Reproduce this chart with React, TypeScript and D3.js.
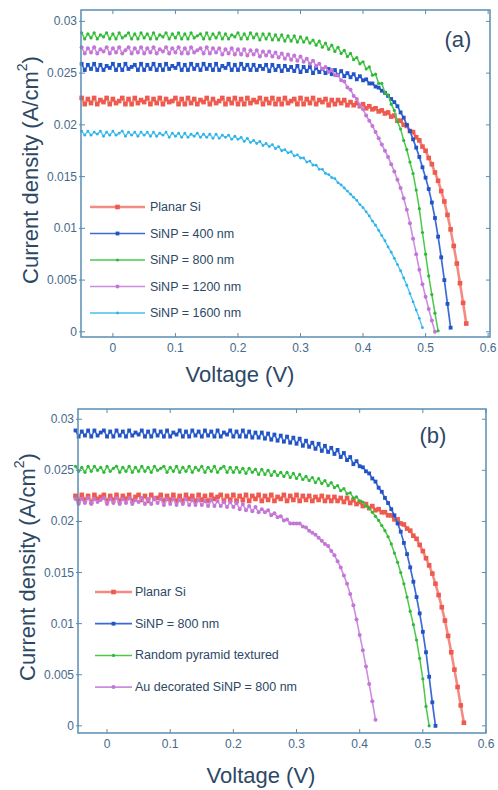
import React from 'react';
import * as d3 from 'd3';

// voltage sweep (V), shared by every curve
const VOLTAGE = [
  -0.05, -0.045, -0.04, -0.035, -0.03, -0.025, -0.02, -0.015, -0.01, -0.005,
  0, 0.005, 0.01, 0.015, 0.02, 0.025, 0.03, 0.035, 0.04, 0.045,
  0.05, 0.055, 0.06, 0.065, 0.07, 0.075, 0.08, 0.085, 0.09, 0.095,
  0.1, 0.105, 0.11, 0.115, 0.12, 0.125, 0.13, 0.135, 0.14, 0.145,
  0.15, 0.155, 0.16, 0.165, 0.17, 0.175, 0.18, 0.185, 0.19, 0.195,
  0.2, 0.205, 0.21, 0.215, 0.22, 0.225, 0.23, 0.235, 0.24, 0.245,
  0.25, 0.255, 0.26, 0.265, 0.27, 0.275, 0.28, 0.285, 0.29, 0.295,
  0.3, 0.305, 0.31, 0.315, 0.32, 0.325, 0.33, 0.335, 0.34, 0.345,
  0.35, 0.355, 0.36, 0.365, 0.37, 0.375, 0.38, 0.385, 0.39, 0.395,
  0.4, 0.405, 0.41, 0.415, 0.42, 0.425, 0.43, 0.435, 0.44, 0.445,
  0.45, 0.455, 0.46, 0.465, 0.47, 0.475, 0.48, 0.485, 0.49, 0.495,
  0.5, 0.505, 0.51, 0.515, 0.52, 0.525, 0.53, 0.535, 0.54, 0.545,
  0.55, 0.555, 0.56, 0.565, 0.57,
];

const X_TICKS = [0, 0.1, 0.2, 0.3, 0.4, 0.5, 0.6];
const X_TICK_LABELS = ['0', '0.1', '0.2', '0.3', '0.4', '0.5', '0.6'];
const Y_TICKS = [0, 0.005, 0.01, 0.015, 0.02, 0.025, 0.03];
const Y_TICK_LABELS = ['0', '0.005', '0.01', '0.015', '0.02', '0.025', '0.03'];

// current density values in mA/cm2 (converted to A/cm2 when drawn)
// panel (a)
const A_PLANAR = [
  22.6, 22.0, 22.5, 22.1, 22.6, 22.0, 22.4, 22.2, 22.6, 22.0,
  22.5, 22.1, 22.3, 22.6, 22.0, 22.5, 22.0, 22.6, 22.1, 22.4,
  22.2, 22.6, 22.0, 22.5, 22.1, 22.6, 22.0, 22.5, 22.2, 22.3,
  22.6, 22.0, 22.5, 22.0, 22.6, 22.1, 22.5, 22.0, 22.4, 22.2,
  22.6, 22.0, 22.5, 22.1, 22.3, 22.6, 22.0, 22.5, 22.1, 22.6,
  22.0, 22.5, 22.0, 22.6, 22.1, 22.4, 22.2, 22.6, 22.0, 22.5,
  22.1, 22.6, 22.0, 22.5, 22.0, 22.6, 22.1, 22.3, 22.5, 22.0,
  22.6, 22.0, 22.5, 22.1, 22.6, 22.0, 22.4, 22.2, 22.5, 21.9,
  22.4, 22.0, 22.4, 22.1, 22.4, 21.9, 22.2, 21.9, 22.1, 21.8,
  22.0, 21.6, 21.8, 21.5, 21.6, 21.3, 21.4, 21.1, 21.2, 20.8,
  20.9, 20.4, 20.4, 20.0, 19.9, 19.4, 19.3, 18.8, 18.5, 17.9,
  17.5, 16.8, 16.2, 15.4, 14.6, 13.6, 12.6, 11.3, 9.9, 8.3,
  6.6, 4.7, 2.8, 0.8,
];
const A_SINP400 = [
  25.9, 25.3, 25.8, 25.4, 25.9, 25.3, 25.8, 25.3, 25.7, 25.5,
  25.9, 25.3, 25.8, 25.3, 25.9, 25.4, 25.6, 25.8, 25.3, 25.9,
  25.3, 25.8, 25.4, 25.9, 25.3, 25.8, 25.3, 25.9, 25.4, 25.7,
  25.5, 25.9, 25.3, 25.8, 25.3, 25.9, 25.4, 25.8, 25.3, 25.9,
  25.4, 25.8, 25.3, 25.9, 25.3, 25.7, 25.5, 25.9, 25.3, 25.8,
  25.3, 25.9, 25.4, 25.8, 25.3, 25.8, 25.3, 25.7, 25.4, 25.8,
  25.2, 25.8, 25.3, 25.7, 25.2, 25.7, 25.3, 25.6, 25.2, 25.7,
  25.1, 25.6, 25.2, 25.6, 25.0, 25.5, 25.1, 25.4, 25.0, 25.4,
  24.9, 25.3, 24.8, 25.2, 24.7, 25.0, 24.6, 24.9, 24.4, 24.7,
  24.3, 24.4, 24.0, 24.0, 23.7, 23.6, 23.3, 23.1, 22.8, 22.5,
  22.2, 21.8, 21.2, 20.7, 20.0, 19.4, 18.6, 17.8, 16.9, 15.9,
  14.9, 13.8, 12.5, 11.0, 9.2, 7.2, 5.0, 2.7, 0.4,
];
const A_SINP800 = [
  28.9, 28.3, 28.8, 28.4, 28.9, 28.3, 28.7, 28.5, 28.9, 28.3,
  28.8, 28.3, 28.9, 28.4, 28.6, 28.9, 28.3, 28.8, 28.3, 28.9,
  28.4, 28.8, 28.3, 28.9, 28.3, 28.7, 28.5, 28.9, 28.3, 28.8,
  28.4, 28.9, 28.3, 28.8, 28.3, 28.9, 28.4, 28.6, 28.8, 28.3,
  28.9, 28.3, 28.8, 28.4, 28.9, 28.3, 28.8, 28.3, 28.7, 28.5,
  28.9, 28.3, 28.8, 28.3, 28.9, 28.4, 28.8, 28.2, 28.8, 28.3,
  28.8, 28.2, 28.7, 28.2, 28.7, 28.1, 28.6, 28.1, 28.6, 28.0,
  28.5, 28.0, 28.4, 27.9, 28.2, 27.7, 28.1, 27.5, 27.9, 27.3,
  27.7, 27.1, 27.5, 26.9, 27.2, 26.6, 26.9, 26.3, 26.5, 25.9,
  26.1, 25.4, 25.6, 24.8, 24.9, 24.0, 24.0, 23.1, 22.9, 22.0,
  21.4, 20.3, 19.6, 18.5, 17.6, 16.4, 15.3, 13.7, 11.9, 9.6,
  7.5, 5.4, 3.6, 1.8, 0.1,
];
const A_SINP1200 = [
  27.5, 26.9, 27.4, 27.0, 27.5, 26.9, 27.3, 27.1, 27.5, 26.9,
  27.4, 27.0, 27.5, 26.9, 27.2, 27.5, 26.9, 27.4, 27.0, 27.5,
  26.9, 27.4, 27.0, 27.5, 26.9, 27.3, 27.1, 27.5, 26.9, 27.4,
  27.0, 27.5, 26.9, 27.4, 26.9, 27.5, 27.0, 27.2, 27.4, 26.9,
  27.5, 26.9, 27.4, 27.0, 27.4, 26.8, 27.3, 26.9, 27.4, 26.8,
  27.3, 26.8, 27.3, 26.7, 27.2, 26.8, 27.2, 26.6, 27.1, 26.7,
  27.1, 26.6, 27.0, 26.5, 26.9, 26.4, 26.8, 26.3, 26.7, 26.2,
  26.6, 26.1, 26.4, 25.9, 26.2, 25.7, 25.9, 25.4, 25.6, 25.1,
  25.3, 24.8, 24.8, 24.3, 24.2, 23.6, 23.4, 22.8, 22.5, 21.9,
  21.5, 20.9, 20.4, 19.9, 19.3, 18.7, 18.1, 17.5, 16.9, 16.2,
  15.5, 14.7, 13.9, 12.9, 11.8, 10.5, 9.0, 7.5, 6.0, 4.6,
  3.4, 2.2, 1.1, 0.0,
];
const A_SINP1600 = [
  19.4, 19.0, 19.4, 19.0, 19.3, 19.1, 19.4, 18.9, 19.3, 19.0,
  19.4, 19.0, 19.2, 19.4, 18.9, 19.3, 19.0, 19.3, 18.9, 19.3,
  19.0, 19.3, 18.9, 19.3, 18.9, 19.2, 19.0, 19.3, 18.8, 19.2,
  18.9, 19.2, 18.8, 19.2, 18.8, 19.1, 18.9, 19.2, 18.8, 19.1,
  18.8, 19.1, 18.7, 19.1, 18.7, 19.0, 18.8, 19.0, 18.6, 18.9,
  18.6, 18.8, 18.4, 18.7, 18.3, 18.5, 18.2, 18.4, 18.0, 18.2,
  17.9, 18.1, 17.7, 17.9, 17.5, 17.6, 17.3, 17.4, 17.0, 17.1,
  16.8, 16.8, 16.4, 16.5, 16.1, 16.1, 15.7, 15.7, 15.3, 15.2,
  14.9, 14.8, 14.4, 14.2, 13.9, 13.6, 13.3, 13.0, 12.7, 12.3,
  12.0, 11.6, 11.2, 10.7, 10.3, 9.8, 9.3, 8.8, 8.2, 7.7,
  7.1, 6.5, 5.9, 5.2, 4.5, 3.7, 2.9, 2.1, 1.3, 0.4,
];

// panel (b)
const B_PLANAR = [
  22.5, 22.0, 22.6, 22.1, 22.5, 21.9, 22.6, 22.2, 22.4, 22.6,
  22.0, 22.5, 22.1, 22.6, 22.0, 22.5, 22.2, 22.6, 22.0, 22.4,
  22.6, 22.1, 22.5, 22.0, 22.6, 22.2, 22.3, 22.6, 22.0, 22.5,
  22.1, 22.6, 22.0, 22.5, 22.0, 22.6, 22.2, 22.5, 22.0, 22.6,
  22.1, 22.5, 22.0, 22.6, 22.2, 22.4, 22.6, 22.0, 22.5, 22.1,
  22.6, 22.0, 22.5, 22.1, 22.6, 22.0, 22.5, 22.2, 22.6, 22.0,
  22.5, 22.1, 22.6, 22.0, 22.4, 22.2, 22.6, 22.0, 22.5, 22.1,
  22.6, 22.0, 22.5, 22.1, 22.5, 22.0, 22.4, 22.1, 22.5, 22.0,
  22.4, 22.0, 22.4, 22.0, 22.3, 21.9, 22.3, 21.8, 22.1, 21.7,
  21.9, 21.5, 21.7, 21.3, 21.5, 21.1, 21.2, 20.9, 20.9, 20.6,
  20.6, 20.2, 20.2, 19.8, 19.7, 19.3, 19.1, 18.6, 18.3, 17.7,
  17.1, 16.4, 15.7, 14.9, 13.9, 12.8, 11.6, 10.3, 8.8, 7.2,
  5.5, 3.8, 2.0, 0.3,
];
const B_SINP800 = [
  28.9, 28.3, 28.8, 28.4, 28.9, 28.3, 28.9, 28.4, 28.7, 28.9,
  28.3, 28.8, 28.3, 28.9, 28.4, 28.8, 28.3, 28.9, 28.4, 28.7,
  28.5, 28.9, 28.3, 28.8, 28.3, 28.9, 28.4, 28.8, 28.3, 28.9,
  28.3, 28.7, 28.5, 28.9, 28.3, 28.8, 28.3, 28.9, 28.4, 28.8,
  28.3, 28.9, 28.4, 28.8, 28.3, 28.9, 28.3, 28.7, 28.5, 28.9,
  28.3, 28.8, 28.3, 28.9, 28.3, 28.8, 28.2, 28.7, 28.2, 28.7,
  28.1, 28.6, 28.0, 28.5, 27.9, 28.4, 27.8, 28.3, 27.7, 28.2,
  27.6, 28.1, 27.4, 27.9, 27.3, 27.7, 27.1, 27.6, 26.9, 27.4,
  26.8, 27.2, 26.6, 27.0, 26.3, 26.7, 26.0, 26.3, 25.6, 25.9,
  25.4, 25.3, 24.9, 24.7, 24.2, 23.9, 23.3, 22.9, 22.3, 21.8,
  21.2, 20.6, 19.8, 19.0, 17.9, 16.8, 15.5, 14.1, 12.6, 11.0,
  9.2, 7.2, 4.8, 2.3, 0.0,
];
const B_PYRAMID = [
  25.4, 24.9, 25.3, 24.8, 25.4, 24.9, 25.4, 25.0, 25.3, 24.8,
  25.4, 24.9, 25.2, 25.4, 24.8, 25.3, 24.9, 25.4, 24.8, 25.3,
  24.9, 25.4, 24.9, 25.3, 24.8, 25.4, 25.0, 25.2, 25.4, 24.8,
  25.3, 24.9, 25.4, 24.8, 25.3, 24.9, 25.4, 24.8, 25.3, 25.0,
  25.4, 24.8, 25.3, 24.9, 25.4, 24.8, 25.2, 25.4, 24.8, 25.3,
  24.8, 25.3, 24.8, 25.2, 24.7, 25.2, 24.8, 25.1, 24.6, 25.1,
  24.6, 25.0, 24.5, 24.9, 24.5, 24.8, 24.4, 24.8, 24.3, 24.7,
  24.2, 24.6, 24.1, 24.4, 24.0, 24.3, 23.8, 24.2, 23.7, 24.0,
  23.5, 23.8, 23.3, 23.5, 23.0, 23.2, 22.7, 22.8, 22.3, 22.4,
  22.0, 21.9, 21.5, 21.3, 20.9, 20.5, 20.1, 19.6, 19.1, 18.5,
  17.8, 16.9, 16.0, 15.0, 13.9, 12.6, 11.2, 9.9, 8.4, 6.6,
  4.6, 1.9, 0.0,
];
const B_AU_SINP = [
  22.2, 21.7, 22.2, 21.8, 22.3, 21.7, 22.2, 21.9, 22.1, 22.3,
  21.7, 22.2, 21.8, 22.3, 21.7, 22.2, 21.8, 22.3, 21.7, 22.1,
  21.9, 22.3, 21.7, 22.2, 21.7, 22.3, 21.8, 22.2, 21.6, 22.2,
  21.7, 22.2, 21.6, 22.1, 21.7, 22.2, 21.6, 22.1, 21.6, 22.1,
  21.6, 22.0, 21.5, 22.1, 21.5, 22.0, 21.5, 21.9, 21.4, 21.9,
  21.4, 21.8, 21.2, 21.7, 21.1, 21.5, 21.0, 21.4, 20.9, 21.2,
  20.9, 21.1, 20.6, 20.8, 20.4, 20.5, 20.1, 20.2, 19.8, 19.8,
  19.8, 19.8, 19.5, 19.4, 19.1, 18.9, 18.7, 18.4, 18.1, 17.8,
  17.6, 17.1, 16.7, 16.1, 15.5, 14.7, 13.9, 12.9, 11.8, 10.4,
  8.9, 7.4, 5.8, 4.1, 2.4, 0.6,
];

const LEGEND_A = ['Planar Si', 'SiNP = 400 nm', 'SiNP = 800 nm', 'SiNP = 1200 nm', 'SiNP = 1600 nm'];
const LEGEND_B = ['Planar Si', 'SiNP = 800 nm', 'Random pyramid textured', 'Au decorated SiNP = 800 nm'];

const STYLE = {
  red: { marker: '#ef5a4f', line: '#f58a82', width: 2.6, shape: 'square', size: 4.6 },
  blue: { marker: '#2254c6', line: '#3d6bd6', width: 1.7, shape: 'square', size: 3.8 },
  green: { marker: '#2fb83a', line: '#4cc84a', width: 1.5, shape: 'circle', size: 1.6 },
  purple: { marker: '#c276d6', line: '#cd8ddf', width: 1.6, shape: 'circle', size: 2.0 },
  cyan: { marker: '#2db3ea', line: '#48c0ef', width: 1.3, shape: 'circle', size: 1.4 },
};

const AXIS_COLOR = '#5a8db2';
const TICK_TEXT = '#46698a';
const TITLE_TEXT = '#2c4865';
const FONT = '"Liberation Sans", Arial, sans-serif';

type Series = { name: string; values: number[]; style: typeof STYLE.red };

type PanelProps = {
  box: { left: number; right: number; top: number; bottom: number };
  xDomain: [number, number];
  yDomain: [number, number];
  series: Series[];
  label: string;
  labelPos: [number, number];
  legend: { x1: number; x2: number; tx: number; y0: number; dy: number };
  yTitle: [number, number];
  xTitle: [number, number];
};

function Marker({ cx, cy, style }: { cx: number; cy: number; style: typeof STYLE.red }) {
  if (style.shape === 'square') {
    return <rect x={cx - style.size / 2} y={cy - style.size / 2} width={style.size} height={style.size} fill={style.marker} />;
  }
  return <circle cx={cx} cy={cy} r={style.size} fill={style.marker} />;
}

function Panel({ box, xDomain, yDomain, series, label, labelPos, legend, yTitle, xTitle }: PanelProps) {
  const x = d3.scaleLinear().domain(xDomain).range([box.left, box.right]);
  const y = d3.scaleLinear().domain(yDomain).range([box.bottom, box.top]);
  const line = d3.line<[number, number]>()
    .x(d => x(d[0]))
    .y(d => y(d[1] / 1000));
  const tick = 4;

  return (
    <g>
      {series.map(s => {
        const pts: [number, number][] = s.values.map((v, i) => [VOLTAGE[i], v]);
        return (
          <g key={s.name}>
            <path d={line(pts) || ''} fill="none" stroke={s.style.line} strokeWidth={s.style.width} strokeLinejoin="round" />
            {pts.map((p, i) => (
              <Marker key={i} cx={x(p[0])} cy={y(p[1] / 1000)} style={s.style} />
            ))}
          </g>
        );
      })}

      {/* frame */}
      <rect x={box.left} y={box.top} width={box.right - box.left} height={box.bottom - box.top}
        fill="none" stroke={AXIS_COLOR} strokeWidth={1.5} />

      {X_TICKS.map((t, i) => (
        <g key={'x' + t}>
          <line x1={x(t)} x2={x(t)} y1={box.bottom} y2={box.bottom - tick} stroke={AXIS_COLOR} />
          <line x1={x(t)} x2={x(t)} y1={box.top} y2={box.top + tick} stroke={AXIS_COLOR} />
          <text x={x(t)} y={box.bottom + 11} textAnchor="middle" dominantBaseline="central"
            fontSize={12} fill={TICK_TEXT} fontFamily={FONT}>{X_TICK_LABELS[i]}</text>
        </g>
      ))}
      {Y_TICKS.map((t, i) => (
        <g key={'y' + t}>
          <line x1={box.left - 2} x2={box.left + tick} y1={y(t)} y2={y(t)} stroke={AXIS_COLOR} />
          <line x1={box.right} x2={box.right - tick} y1={y(t)} y2={y(t)} stroke={AXIS_COLOR} />
          <text x={box.left - 4} y={y(t)} textAnchor="end" dominantBaseline="central"
            fontSize={12} fill={TICK_TEXT} fontFamily={FONT}>{Y_TICK_LABELS[i]}</text>
        </g>
      ))}

      {/* legend */}
      {series.map((s, i) => {
        const ly = legend.y0 + i * legend.dy;
        return (
          <g key={'lg' + s.name}>
            <line x1={legend.x1} x2={legend.x2} y1={ly} y2={ly} stroke={s.style.line} strokeWidth={s.style.width} />
            <Marker cx={(legend.x1 + legend.x2) / 2} cy={ly} style={s.style} />
            <text x={legend.tx} y={ly} dominantBaseline="central" fontSize={12.5}
              fill={TITLE_TEXT} fontFamily={FONT}>{s.name}</text>
          </g>
        );
      })}

      <text x={labelPos[0]} y={labelPos[1]} textAnchor="middle" dominantBaseline="central"
        fontSize={22} fill={TITLE_TEXT} fontFamily={FONT}>{label}</text>

      <text x={xTitle[0]} y={xTitle[1]} textAnchor="middle" dominantBaseline="central"
        fontSize={22} fill={TITLE_TEXT} fontFamily={FONT}>Voltage (V)</text>

      <text transform={`translate(${yTitle[0]},${yTitle[1]}) rotate(-90)`} textAnchor="middle"
        dominantBaseline="central" fontSize={22} fill={TITLE_TEXT} fontFamily={FONT}>
        Current density (A/cm<tspan fontSize={14} dy={-8}>2</tspan><tspan dy={8}>)</tspan>
      </text>
    </g>
  );
}

export default function App() {
  const seriesA: Series[] = [
    { name: LEGEND_A[0], values: A_PLANAR, style: STYLE.red },
    { name: LEGEND_A[1], values: A_SINP400, style: STYLE.blue },
    { name: LEGEND_A[2], values: A_SINP800, style: STYLE.green },
    { name: LEGEND_A[3], values: A_SINP1200, style: STYLE.purple },
    { name: LEGEND_A[4], values: A_SINP1600, style: STYLE.cyan },
  ];
  const seriesB: Series[] = [
    { name: LEGEND_B[0], values: B_PLANAR, style: STYLE.red },
    { name: LEGEND_B[1], values: B_SINP800, style: STYLE.blue },
    { name: LEGEND_B[2], values: B_PYRAMID, style: STYLE.green },
    { name: LEGEND_B[3], values: B_AU_SINP, style: STYLE.purple },
  ];

  return (
    <svg width={498} height={790} style={{ position: 'absolute', left: 0, top: 0, background: '#fff' }}>
      <Panel
        box={{ left: 81, right: 490, top: 10, bottom: 337 }}
        xDomain={[-0.051, 0.603]}
        yDomain={[-0.0005, 0.0311]}
        series={seriesA}
        label="(a)"
        labelPos={[458, 39]}
        legend={{ x1: 90, x2: 145, tx: 150, y0: 207, dy: 26.5 }}
        yTitle={[30, 170]}
        xTitle={[240, 374]}
      />
      <Panel
        box={{ left: 78, right: 486, top: 409, bottom: 733 }}
        xDomain={[-0.046, 0.6]}
        yDomain={[-0.0007, 0.031]}
        series={seriesB}
        label="(b)"
        labelPos={[433, 435]}
        legend={{ x1: 95, x2: 132, tx: 135, y0: 592, dy: 31.7 }}
        yTitle={[27, 567]}
        xTitle={[261, 775]}
      />
    </svg>
  );
}
